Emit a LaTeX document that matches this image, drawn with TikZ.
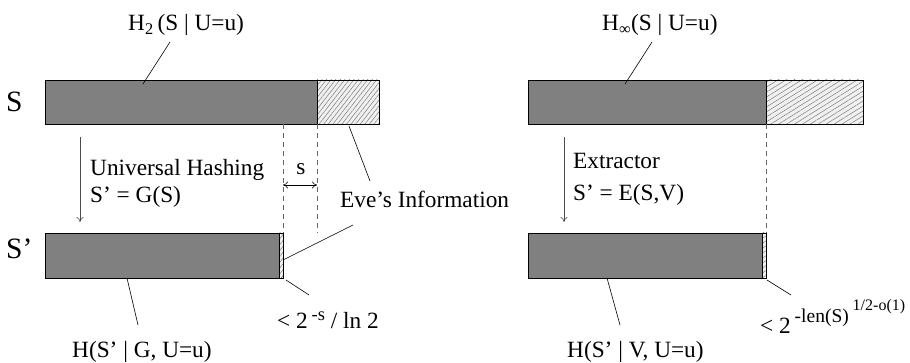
\documentclass[tikz,border=0pt]{standalone}
\usepackage{fontspec}
\setmainfont{Liberation Serif}
\usetikzlibrary{arrows.meta, patterns.meta, positioning}
\newcommand{\supsz}[3]{\raisebox{#1}{\fontsize{#2}{#2}\selectfont #3}}

\begin{document}
\begin{tikzpicture}[x=1pt, y=-1pt, font=\fontsize{23.3}{28}\selectfont,
    darkpart/.style={fill=black!50},
    hatchL/.style={fill=black!6, postaction={pattern={Lines[angle=52,distance=3.6pt,line width=0.45pt]}, pattern color=black!55}},
    hatchR/.style={fill=black!6, postaction={pattern={Lines[angle=32,distance=4.2pt,line width=0.45pt]}, pattern color=black!55}},
    outline/.style={draw, line width=0.9pt},
    guide/.style={draw=black!60, line width=0.8pt, dash pattern=on 5pt off 4pt},
    leader/.style={draw, line width=0.6pt},
    flow/.style={draw=black!70, line width=0.6pt, -{To[length=5pt,width=7pt]}},
    lbl/.style={inner sep=0pt, anchor=base west},
    rowname/.style={lbl, font=\fontsize{29.5}{32}\selectfont}]
    \useasboundingbox (0,0) rectangle (910,363);

    %left side : universal hashing
    \fill[darkpart] (45,80) rectangle (317,124);
    \fill[hatchL] (317,80) rectangle (379,124);
    \draw[outline] (45,80) rectangle (379,124);
    \draw[outline] (317,80) -- (317,124);

    \fill[darkpart] (45,233) rectangle (279,278);
    \fill[hatchL] (279,233) rectangle (283,278);
    \draw[outline] (45,233) rectangle (283,278);
    \draw[outline] (279,233) -- (279,278);

    \draw[guide] (283,124) -- (283,233);
    \draw[guide] (317,124) -- (317,233);

    \node[rowname] (sname) at (6,112) {S};
    \node[rowname] (spname) at (6,259) {S’};

    \coordinate (lfrom) at (80,137);
    \coordinate (lto) at (80,222);
    \draw[flow] (lfrom) -- (lto);
    \node[lbl] (hashing) at (90,176) {Universal Hashing};
    \node[lbl] (gmap) at (90,203) {S’ = G(S)};

    \coordinate (sa) at (283,185);
    \coordinate (sb) at (317,185);
    \draw[line width=0.6pt, {To[length=5pt,width=7pt]}-{To[length=5pt,width=7pt]}] (sa) -- (sb);
    \node[inner sep=0pt, anchor=base] (slen) at (301,175) {s};

    \node[lbl] (htwo) at (128,31) {H\textsubscript{2}\,(S | U=u)};
    \coordinate (htwofoot) at (170,42);
    \coordinate (htwoend) at (143,84);
    \draw[leader] (htwofoot) -- (htwoend);

    \node[lbl] (eve) at (340,208) {Eve’s Information};
    \coordinate (evetop) at (349,126);
    \coordinate (evetopl) at (370,181);
    \coordinate (evebot) at (283,260);
    \coordinate (evebotl) at (353,225);
    \draw[leader] (evetop) -- (evetopl);
    \draw[leader] (evebot) -- (evebotl);

    \node[lbl] (hg) at (72,357) {H(S’ | G, U=u)};
    \coordinate (hgtop) at (127,278);
    \coordinate (hgbot) at (138,325);
    \draw[leader] (hgtop) -- (hgbot);

    \node[lbl] (boundL) at (277,328) {< 2\,\supsz{8pt}{18.5}{-s} / ln 2};
    \coordinate (bLa) at (286,280);
    \coordinate (bLb) at (309,295);
    \draw[leader] (bLa) -- (bLb);

    %right side : extractor
    \fill[darkpart] (528,80) rectangle (766,124);
    \fill[hatchR] (766,80) rectangle (863,124);
    \draw[outline] (528,80) rectangle (863,124);
    \draw[outline] (766,80) -- (766,124);

    \fill[darkpart] (528,233) rectangle (762,278);
    \fill[hatchR] (762,233) rectangle (766,278);
    \draw[outline] (528,233) rectangle (766,278);
    \draw[outline] (762,233) -- (762,278);

    \draw[guide] (766,124) -- (766,233);

    \coordinate (rfrom) at (564,137);
    \coordinate (rto) at (564,222);
    \draw[flow] (rfrom) -- (rto);
    \node[lbl] (extr) at (573,169) {Extractor};
    \node[lbl] (emap) at (573,201) {S’ = E(S,V)};

    \node[lbl] (hinf) at (602,31) {H\textsubscript{∞}(S | U=u)};
    \coordinate (hinffoot) at (652,42);
    \coordinate (hinfend) at (625,84);
    \draw[leader] (hinffoot) -- (hinfend);

    \node[lbl] (hv) at (567,357) {H(S’ | V, U=u)};
    \coordinate (hvtop) at (607,278);
    \coordinate (hvbot) at (620,325);
    \draw[leader] (hvtop) -- (hvbot);

    \node[lbl] (boundR) at (760,333) {< 2\,\supsz{11pt}{19.5}{-len(S)}\,\supsz{22pt}{16}{1/2-o(1)}};
    \coordinate (bRa) at (767,280);
    \coordinate (bRb) at (791,295);
    \draw[leader] (bRa) -- (bRb);
\end{tikzpicture}
\end{document}
